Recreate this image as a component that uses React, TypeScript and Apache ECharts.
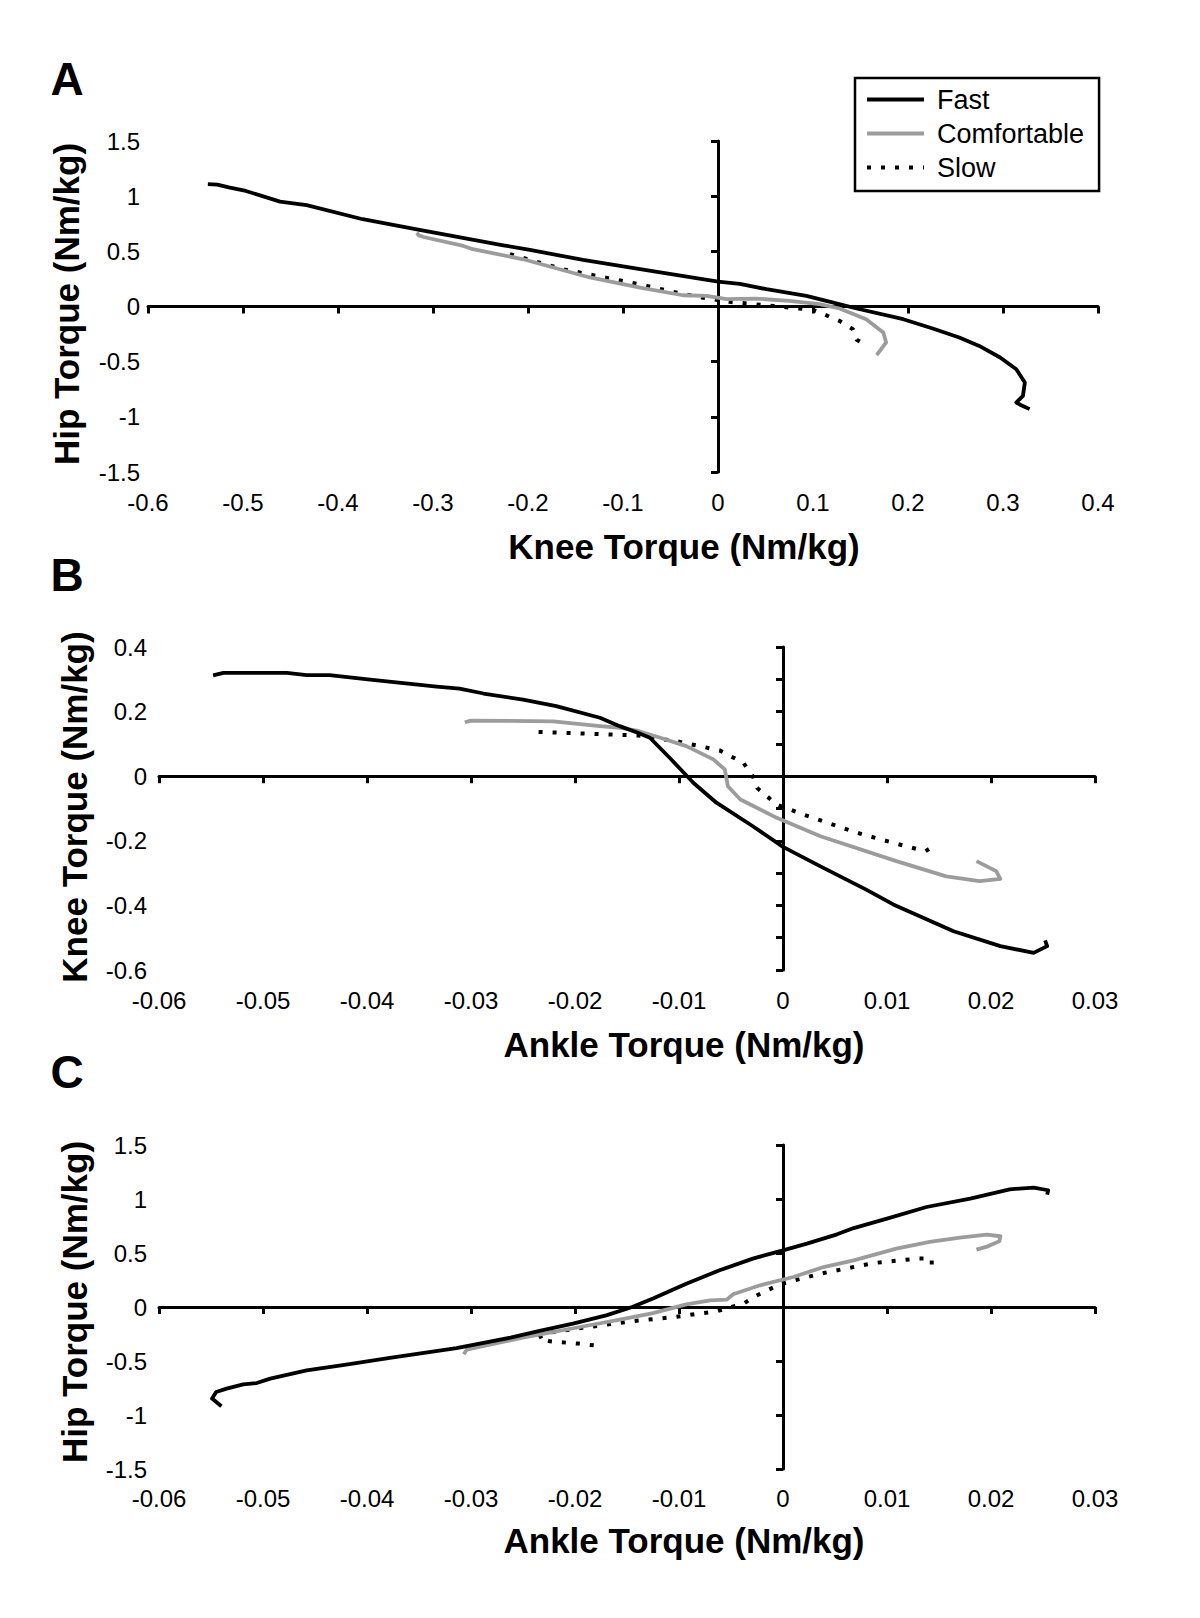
import React, { useEffect, useRef } from "react";
import * as echarts from "echarts";

// ---------- DATA ----------
const SERIES_NAMES = ["Fast", "Comfortable", "Slow"];

// Panel A: knee torque (x) vs hip torque (y)
const fastKneeHip: [number, number][] = [
  [-0.537, 1.11], [-0.527, 1.105], [-0.515, 1.08], [-0.497, 1.047], [-0.461, 0.951],
  [-0.433, 0.918], [-0.374, 0.791], [-0.317, 0.7], [-0.226, 0.555], [-0.198, 0.513],
  [-0.142, 0.422], [-0.082, 0.338], [0, 0.226], [0.023, 0.205], [0.051, 0.157],
  [0.093, 0.096], [0.114, 0.051], [0.146, -0.018], [0.195, -0.115], [0.226, -0.199],
  [0.254, -0.281], [0.275, -0.357], [0.297, -0.462], [0.314, -0.568], [0.323, -0.688],
  [0.321, -0.81], [0.314, -0.87], [0.318, -0.89], [0.328, -0.93],
];
const comfKneeHip: [number, number][] = [
  [-0.317, 0.67], [-0.315, 0.645], [-0.31, 0.63], [-0.268, 0.549], [-0.258, 0.519],
  [-0.205, 0.428], [-0.135, 0.263], [-0.082, 0.172], [-0.037, 0.102], [-0.012, 0.096],
  [0.009, 0.066], [0.04, 0.072], [0.075, 0.051], [0.107, 0.021], [0.128, -0.018],
  [0.156, -0.115], [0.174, -0.236], [0.177, -0.326], [0.167, -0.441],
];
const slowKneeHip: [number, number][] = [
  [-0.219, 0.474], [-0.163, 0.338], [-0.075, 0.187], [-0.047, 0.132], [-0.017, 0.082],
  [0.012, 0.042], [0.058, 0.005], [0.1, -0.031], [0.128, -0.13], [0.142, -0.206],
  [0.146, -0.302], [0.158, -0.362],
];

// Panel B: ankle torque (x) vs knee torque (y)
const fastAnkleKnee: [number, number][] = [
  [-0.0548, 0.312], [-0.0538, 0.32], [-0.0477, 0.32], [-0.0458, 0.313], [-0.0436, 0.313],
  [-0.0397, 0.299], [-0.0333, 0.277], [-0.0311, 0.271], [-0.0288, 0.256], [-0.025, 0.237],
  [-0.0218, 0.217], [-0.0176, 0.181], [-0.0157, 0.155], [-0.0139, 0.134], [-0.0128, 0.119],
  [-0.0109, 0.057], [-0.0099, 0.023], [-0.0086, -0.021], [-0.0064, -0.082], [-0.0029, -0.155],
  [0, -0.219], [0.0036, -0.279], [0.008, -0.351], [0.0106, -0.397], [0.0164, -0.48],
  [0.0209, -0.526], [0.0241, -0.547], [0.0254, -0.526], [0.0252, -0.508],
];
const comfAnkleKnee: [number, number][] = [
  [-0.0306, 0.167], [-0.03, 0.172], [-0.0221, 0.17], [-0.0176, 0.155], [-0.0157, 0.15],
  [-0.0139, 0.14], [-0.0118, 0.119], [-0.0093, 0.093], [-0.0067, 0.052], [-0.0056, 0.021],
  [-0.0053, -0.031], [-0.0041, -0.072], [-0.0006, -0.129], [0.0036, -0.186], [0.0109, -0.263],
  [0.0157, -0.31], [0.0189, -0.325], [0.0209, -0.318], [0.0205, -0.294], [0.0186, -0.263],
];
const slowAnkleKnee: [number, number][] = [
  [-0.0235, 0.137], [-0.0139, 0.126], [-0.0102, 0.108], [-0.0061, 0.08], [-0.0038, 0.041],
  [-0.0029, 0], [-0.0025, -0.036], [-0.0006, -0.088], [0.002, -0.119], [0.0071, -0.175],
  [0.0109, -0.209], [0.0137, -0.232], [0.0146, -0.214],
];

// Panel C: ankle torque (x) vs hip torque (y)
const fastAnkleHip: [number, number][] = [
  [-0.054, -0.919], [-0.0549, -0.848], [-0.0545, -0.787], [-0.0535, -0.756], [-0.0519, -0.716],
  [-0.0506, -0.704], [-0.0493, -0.663], [-0.0458, -0.586], [-0.042, -0.534], [-0.0378, -0.472],
  [-0.0314, -0.38], [-0.0262, -0.284], [-0.0234, -0.222], [-0.0202, -0.154], [-0.017, -0.077],
  [-0.0145, 0], [-0.0125, 0.078], [-0.0093, 0.216], [-0.0061, 0.34], [-0.0029, 0.448],
  [0, 0.525], [0.0023, 0.587], [0.0052, 0.673], [0.0068, 0.731], [0.01, 0.818],
  [0.0138, 0.926], [0.018, 1.003], [0.0218, 1.09], [0.0241, 1.106], [0.0255, 1.081],
  [0.0254, 1.041],
];
const comfAnkleHip: [number, number][] = [
  [-0.0307, -0.438], [-0.0304, -0.394], [-0.025, -0.284], [-0.0186, -0.169], [-0.0157, -0.117],
  [-0.0125, -0.056], [-0.0093, 0.025], [-0.007, 0.062], [-0.0054, 0.068], [-0.0048, 0.118],
  [-0.0022, 0.201], [0.001, 0.278], [0.0039, 0.37], [0.0068, 0.432], [0.0109, 0.541],
  [0.0141, 0.602], [0.017, 0.643], [0.0196, 0.67], [0.0209, 0.655], [0.0208, 0.608],
  [0.0197, 0.562], [0.0186, 0.531],
];
const slowAnkleHip: [number, number][] = [
  [-0.0182, -0.355], [-0.0197, -0.339], [-0.0224, -0.318], [-0.0235, -0.284], [-0.0227, -0.241],
  [-0.0198, -0.2], [-0.0145, -0.131], [-0.0105, -0.093], [-0.0064, -0.04], [-0.0038, 0.031],
  [-0.0027, 0.099], [-0.0003, 0.21], [0.0036, 0.309], [0.0087, 0.407], [0.0129, 0.448],
  [0.0143, 0.448], [0.0143, 0.386],
];

const PANEL_DATA = [
  [fastKneeHip, comfKneeHip, slowKneeHip],
  [fastAnkleKnee, comfAnkleKnee, slowAnkleKnee],
  [fastAnkleHip, comfAnkleHip, slowAnkleHip],
];

const PANEL_LETTERS = ["A", "B", "C"];
const X_TITLES = ["Knee Torque (Nm/kg)", "Ankle Torque (Nm/kg)", "Ankle Torque (Nm/kg)"];
const Y_TITLES = ["Hip Torque (Nm/kg)", "Knee Torque (Nm/kg)", "Hip Torque (Nm/kg)"];
// [min, max, label interval]
const X_SCALES = [[-0.6, 0.4, 0.1], [-0.06, 0.03, 0.01], [-0.06, 0.03, 0.01]];
const Y_SCALES = [[-1.5, 1.5, 0.5], [-0.6, 0.4, 0.2], [-1.5, 1.5, 0.5]];
const Y_TICK_STEPS = [0.5, 0.1, 0.5];

// ---------- LAYOUT / STYLE ----------
const GRIDS = [
  { left: 148, top: 141, width: 950, height: 331 },
  { left: 159, top: 647, width: 936, height: 323 },
  { left: 159, top: 1145, width: 936, height: 324 },
];
const X_LABEL_MARGIN = [18, 18, 17];
const Y_LABEL_MARGIN = [8, 12, 12];
const LETTER_POS = [[67, 79], [67, 575], [67, 1072]];
const X_TITLE_POS = [[684, 546], [684, 1044], [684, 1540]];
const Y_TITLE_POS = [[66, 304], [74, 807], [74, 1302]];

const FONT = "'Liberation Sans', Arial, Helvetica, sans-serif";

const SERIES_STYLES = [
  { color: "#000000", width: 3.8, type: "solid" as any },
  { color: "#9c9c9c", width: 3.8, type: "solid" as any },
  { color: "#000000", width: 4, type: [4, 10] as any },
];

function buildOption() {
  const xAxes: any[] = [];
  const yAxes: any[] = [];
  const series: any[] = [];
  const graphics: any[] = [];

  GRIDS.forEach((_, i) => {
    const [xmin, xmax, xint] = X_SCALES[i];
    const [ymin, ymax, yint] = Y_SCALES[i];
    const labelStyle = {
      show: true,
      color: "#000",
      fontSize: 24,
      fontFamily: FONT,
      showMinLabel: true,
      showMaxLabel: true,
      hideOverlap: false,
    };
    // label-only x axis at bottom
    xAxes.push({
      gridIndex: i, type: "value", min: xmin, max: xmax, interval: xint, position: "bottom",
      axisLine: { show: false, onZero: false }, axisTick: { show: false }, splitLine: { show: false },
      axisLabel: { ...labelStyle, margin: X_LABEL_MARGIN[i] },
    });
    // x axis line (with ticks) running through y = 0
    xAxes.push({
      gridIndex: i, type: "value", min: xmin, max: xmax, interval: xint, position: "bottom",
      axisLine: { show: true, onZero: true, onZeroAxisIndex: 2 * i, lineStyle: { color: "#000", width: 3 } },
      axisTick: { show: true, length: 7, lineStyle: { color: "#000", width: 3 } },
      axisLabel: { show: false }, splitLine: { show: false },
    });
    yAxes.push({
      gridIndex: i, type: "value", min: ymin, max: ymax, interval: yint, position: "left",
      axisLine: { show: false, onZero: false }, axisTick: { show: false }, splitLine: { show: false },
      axisLabel: { ...labelStyle, margin: Y_LABEL_MARGIN[i] },
    });
    yAxes.push({
      gridIndex: i, type: "value", min: ymin, max: ymax, interval: Y_TICK_STEPS[i], position: "left",
      axisLine: { show: true, onZero: true, onZeroAxisIndex: 2 * i, lineStyle: { color: "#000", width: 3 } },
      axisTick: { show: true, length: 7, lineStyle: { color: "#000", width: 3 } },
      axisLabel: { show: false }, splitLine: { show: false },
    });

    PANEL_DATA[i].forEach((data, s) => {
      const st = SERIES_STYLES[s];
      series.push({
        name: SERIES_NAMES[s],
        type: "line",
        xAxisIndex: 2 * i,
        yAxisIndex: 2 * i,
        data,
        symbol: "none",
        showSymbol: false,
        smooth: false,
        clip: false,
        z: 3 - s,
        itemStyle: { color: st.color },
        lineStyle: { color: st.color, width: st.width, type: st.type, cap: "butt", join: "round" },
      });
    });

    graphics.push({
      type: "text", x: LETTER_POS[i][0], y: LETTER_POS[i][1],
      style: {
        text: PANEL_LETTERS[i], fill: "#000", fontSize: 46, fontWeight: "bold", fontFamily: FONT,
        align: "center", verticalAlign: "middle", textAlign: "center", textVerticalAlign: "middle",
      },
    });
    graphics.push({
      type: "text", x: X_TITLE_POS[i][0], y: X_TITLE_POS[i][1],
      style: {
        text: X_TITLES[i], fill: "#000", fontSize: 35, fontWeight: "bold", fontFamily: FONT,
        align: "center", verticalAlign: "middle", textAlign: "center", textVerticalAlign: "middle",
      },
    });
    graphics.push({
      type: "text", x: Y_TITLE_POS[i][0], y: Y_TITLE_POS[i][1], rotation: Math.PI / 2,
      style: {
        text: Y_TITLES[i], fill: "#000", fontSize: 35, fontWeight: "bold", fontFamily: FONT,
        align: "center", verticalAlign: "middle", textAlign: "center", textVerticalAlign: "middle",
      },
    });
  });

  return {
    animation: false,
    backgroundColor: "#ffffff",
    grid: GRIDS.map((g) => ({ ...g, containLabel: false, outerBoundsMode: "none" })),
    xAxis: xAxes,
    yAxis: yAxes,
    legend: {
      show: true,
      data: SERIES_NAMES,
      orient: "vertical",
      left: 855,
      top: 78,
      padding: [6, 15, 8, 10],
      itemWidth: 57,
      itemHeight: 14,
      itemGap: 3,
      borderColor: "#000",
      borderWidth: 2.5,
      backgroundColor: "#fff",
      selectedMode: false,
      itemStyle: { opacity: 0, borderWidth: 0 },
      lineStyle: { width: 4, type: "inherit", color: "inherit", cap: "butt" },
      textStyle: { color: "#000", fontSize: 27, fontFamily: FONT, lineHeight: 31, padding: [0, 0, 0, 8] },
    },
    graphic: { elements: graphics },
    series,
  };
}

export default function App() {
  const ref = useRef<HTMLDivElement>(null);
  useEffect(() => {
    document.body.style.margin = "0";
    if (!ref.current) return;
    const chart = echarts.init(ref.current, undefined, { renderer: "svg" });
    chart.setOption(buildOption() as any);
    return () => chart.dispose();
  }, []);
  return <div ref={ref} style={{ width: 1200, height: 1618, background: "#fff" }} />;
}
